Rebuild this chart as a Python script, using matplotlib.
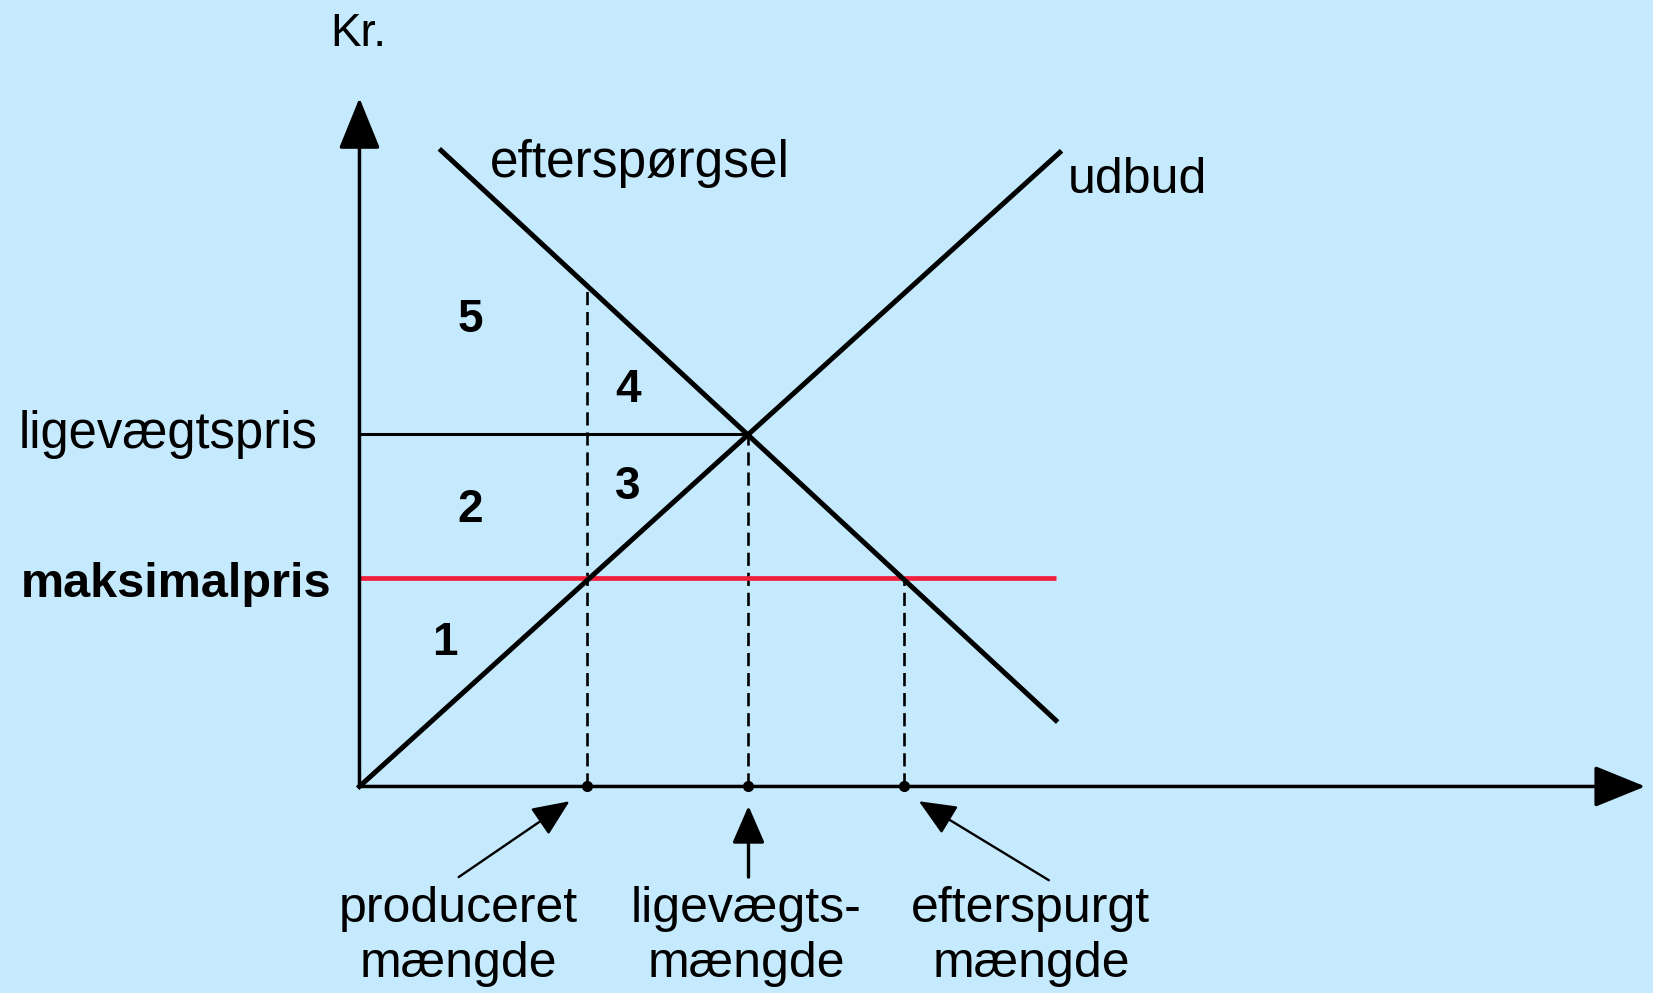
import numpy as np
import matplotlib
matplotlib.use('Agg')
import matplotlib.pyplot as plt

# supply / demand curves (quantity, price)
supply_q = [0.0, 18.0]
supply_p = [0.0, 16.3]
demand_q = [2.1, 17.9]
demand_p = [16.35, 1.7]

eq_q = 10.0          # ligevægtsmængde
eq_p = 9.05          # ligevægtspris
max_p = 5.35         # maksimalpris
q_produced = 5.85    # produceret mængde
q_demanded = 14.0    # efterspurgt mængde
p_demand_at_produced = 12.75

area_labels = ['1', '2', '3', '4', '5']
area_q = [2.2, 2.85, 6.9, 6.9, 2.85]
area_p = [3.7, 7.1, 7.7, 10.2, 12.0]

bottom_labels = ['produceret\nmængde', 'ligevægts-\nmængde', 'efterspurgt\nmængde']

bg = '#c6eafd'
red = '#f0203c'
plt.rcParams['font.family'] = ['Liberation Sans', 'DejaVu Sans']

fig = plt.figure(figsize=(16.53, 9.93), dpi=100, facecolor=bg)
ax = fig.add_axes([0, 0, 1, 1])
ax.set_facecolor(bg)
ax.set_xlim(-9.24, 33.25)
ax.set_ylim(-5.31, 20.22)
ax.axis('off')

# axes with arrow heads
axarr = dict(arrowstyle='-|>,head_length=1.6,head_width=0.65',
             mutation_scale=20, lw=2.5, color='black', shrinkA=0, shrinkB=0)
ax.annotate('', xy=(33.05, 0), xytext=(0, 0), arrowprops=axarr)
ax.annotate('', xy=(0, 17.7), xytext=(0, 0), arrowprops=axarr)

# equilibrium price line
ax.plot([0, eq_q], [eq_p, eq_p], color='black', lw=2.2, solid_capstyle='butt')

# dashed guides
dash = (0, (5, 2.6))
ax.plot([q_produced, q_produced], [0, p_demand_at_produced], color='black', lw=1.9, linestyle=dash)
ax.plot([eq_q, eq_q], [0, eq_p], color='black', lw=1.9, linestyle=dash)
ax.plot([q_demanded, q_demanded], [0, max_p], color='black', lw=1.9, linestyle=dash)

# maximum price
ax.plot([0, demand_q[1]], [max_p, max_p], color=red, lw=3.4, solid_capstyle='butt')

# supply and demand
ax.plot(supply_q, supply_p, color='black', lw=3.6)
ax.plot(demand_q, demand_p, color='black', lw=3.6)

# dots on quantity axis
ax.plot([q_produced, eq_q, q_demanded], [0, 0, 0], 'o', color='black', ms=7)

# arrows to the quantities
arr = dict(arrowstyle='-|>,head_length=1.15,head_width=0.5', mutation_scale=20,
           lw=1.7, color='black', shrinkA=0, shrinkB=0)
ax.annotate('', xy=(q_produced - 0.45, -0.38), xytext=(2.55, -2.33), arrowprops=arr)
ax.annotate('', xy=(eq_q, -0.5), xytext=(eq_q, -2.33), arrowprops=dict(arr, lw=2.4))
ax.annotate('', xy=(q_demanded + 0.38, -0.38), xytext=(17.72, -2.41), arrowprops=arr)

ax.text(-0.03, 19.35, 'Kr.', fontsize=33, ha='center', va='center')
ax.text(3.36, 15.66, 'efterspørgsel', fontsize=37, ha='left', va='baseline')
ax.text(18.2, 15.26, 'udbud', fontsize=36, ha='left', va='baseline')
ax.text(-1.07, 8.7, 'ligevægtspris', fontsize=36.5, ha='right', va='baseline')
ax.text(-0.73, 4.87, 'maksimalpris', fontsize=35, ha='right', va='baseline', fontweight='bold')

for lab, q, p in zip(area_labels, area_q, area_p):
    ax.text(q, p, lab, fontsize=33, fontweight='bold', ha='center', va='center')

for lab, q in zip(bottom_labels, [2.55, 9.94, 17.26]):
    ax.text(q, -3.85, lab, fontsize=36, ha='center', va='center', linespacing=1.25)

fig.savefig('out.png', dpi=100, facecolor=bg)
